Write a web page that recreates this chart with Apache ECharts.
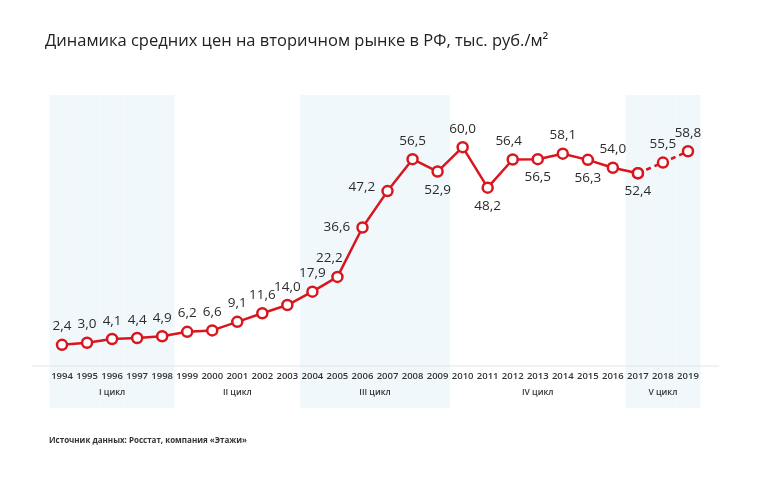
<!DOCTYPE html>
<html>
<head>
<meta charset="utf-8">
<script src="https://cdn.jsdelivr.net/npm/echarts/dist/echarts.min.js"></script>
<style>
  html, body { margin: 0; padding: 0; background: #fff; }
  #chart { width: 760px; height: 477px; }
</style>
</head>
<body>
<div id="chart"></div>
<script>
// годы и средняя цена, тыс. руб./м2
var years  = ['1994','1995','1996','1997','1998','1999','2000','2001','2002','2003','2004','2005','2006',
              '2007','2008','2009','2010','2011','2012','2013','2014','2015','2016','2017','2018','2019'];
var prices = [2.4, 3.0, 4.1, 4.4, 4.9, 6.2, 6.6, 9.1, 11.6, 14.0, 17.9, 22.2, 36.6,
              47.2, 56.5, 52.9, 60.0, 48.2, 56.4, 56.5, 58.1, 56.3, 54.0, 52.4, 55.5, 58.8];
var forecastFrom = '2017';   // с этого года линия пунктирная

// циклы рынка
var cycleNames  = ['I цикл', 'II цикл', 'III цикл', 'IV цикл', 'V цикл'];
var cycleStart  = ['1994', '1999', '2004', '2010', '2017'];
var cycleEnd    = ['1998', '2003', '2009', '2016', '2019'];
var cycleShaded = [true, false, true, false, true];

var RED = '#d9161e';
var fmt = function (v) { return v.toFixed(1).replace('.', ','); };

// подписи точек: где ниже, где слева
var labelBelow = ['2009', '2011', '2013', '2015', '2017'];
var labelLeft  = ['2006', '2007'];
function pointLabel(y) {
  if (labelBelow.indexOf(y) >= 0) return { position: 'bottom', distance: 5 };
  if (labelLeft.indexOf(y) >= 0) return { position: 'left', distance: 6, offset: y === '2007' ? [0, -4] : [0, 0] };
  if (y === '2005') return { position: 'top', offset: [-8, 0] };
  if (y === '2012') return { position: 'top', offset: [-4, 0] };
  return { position: 'top' };
}

var fIdx = years.indexOf(forecastFrom);
var mainData = [], dashData = [], bandData = [];
years.forEach(function (y, i) {
  mainData.push(i <= fIdx ? { value: prices[i], label: pointLabel(y) } : '-');
  dashData.push(i >= fIdx ? { value: prices[i], label: i > fIdx ? pointLabel(y) : { show: false } } : '-');
  var shaded = false;
  cycleStart.forEach(function (s, k) {
    if (cycleShaded[k] && y >= s && y <= cycleEnd[k]) shaded = true;
  });
  bandData.push(shaded ? 1 : '-');
});

// подпись цикла — по центру диапазона лет
function cycleLabel(v, i) {
  for (var k = 0; k < cycleNames.length; k++) {
    var a = years.indexOf(cycleStart[k]), b = years.indexOf(cycleEnd[k]);
    var c = (a + b) / 2;
    if (i === Math.floor(c)) {
      return c % 1 ? '{h|' + cycleNames[k] + '}' : cycleNames[k];
    }
  }
  return '';
}

var chart = echarts.init(document.getElementById('chart'));

var lineLabel = {
  show: true,
  fontSize: 13.5,
  color: '#2b2b2b',
  fontFamily: 'Open Sans',
  formatter: function (p) { return fmt(p.value); }
};

var option = {
  animation: false,
  title: [{
    text: 'Динамика средних цен на вторичном рынке в РФ, тыс. руб./м²',
    left: 40, top: 28,
    textStyle: { fontSize: 16.5, fontWeight: 'normal', color: '#222', fontFamily: 'Open Sans' }
  }, {
    text: 'Источник данных: Росстат, компания «Этажи»',
    left: 44, top: 432,
    textStyle: { fontSize: 8, fontWeight: 'bold', color: '#333', fontFamily: 'Open Sans' }
  }],
  graphic: [{
    type: 'line',
    shape: { x1: 32, y1: 366, x2: 719, y2: 366 },
    style: { stroke: '#e4e4e4', lineWidth: 1 },
    z: 1
  }],
  grid: { left: 49.5, right: 59.5, top: 95, bottom: 69 },
  xAxis: [{
    type: 'category',
    data: years,
    offset: -42,
    axisLine: { show: false },
    axisTick: { show: false },
    axisLabel: { interval: 0, margin: 5, fontSize: 9.5, fontWeight: 600, color: '#333', fontFamily: 'Open Sans' }
  }, {
    type: 'category',
    data: years,
    position: 'bottom',
    offset: -42,
    axisLine: { show: false },
    axisTick: { show: false },
    axisLabel: {
      interval: 0, margin: 22, fontSize: 8.5, fontWeight: 600, color: '#333', fontFamily: 'Open Sans',
      formatter: cycleLabel,
      rich: { h: { fontSize: 8.5, fontWeight: 600, color: '#333', fontFamily: 'Open Sans', padding: [0, 0, 0, 25] } }
    }
  }],
  yAxis: [
    { type: 'value', min: -16, max: 75.2, show: false },
    { type: 'value', min: 0, max: 1, show: false }
  ],
  series: [{
    type: 'bar',
    yAxisIndex: 1,
    data: bandData,
    barCategoryGap: '0%',
    itemStyle: { color: '#f0f8fc' },
    silent: true,
    z: 0
  }, {
    type: 'line',
    data: mainData,
    symbol: 'circle',
    symbolSize: 10,
    lineStyle: { color: RED, width: 2.5 },
    itemStyle: { color: '#fff', borderColor: RED, borderWidth: 2.5 },
    label: lineLabel,
    z: 3
  }, {
    type: 'line',
    data: dashData,
    symbol: 'circle',
    symbolSize: 10,
    lineStyle: { color: RED, width: 2.5, type: [5, 4] },
    itemStyle: { color: '#fff', borderColor: RED, borderWidth: 2.5 },
    label: lineLabel,
    z: 3
  }]
};

chart.setOption(option);
</script>
</body>
</html>
